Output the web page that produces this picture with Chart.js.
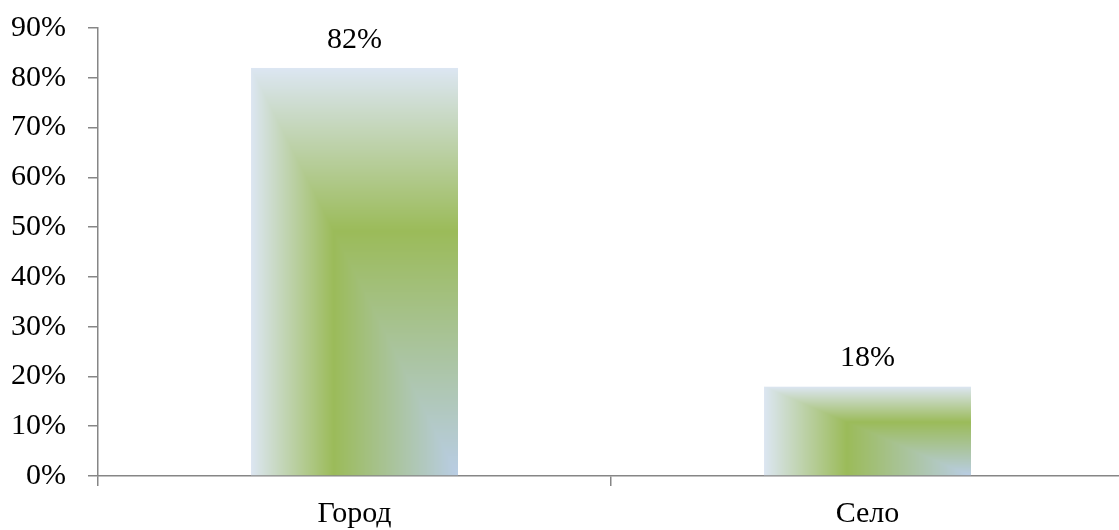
<!DOCTYPE html>
<html>
<head>
<meta charset="utf-8">
<script src="https://cdn.jsdelivr.net/npm/chart.js@4.4.1/dist/chart.umd.min.js"></script>
<style>
  html, body { margin: 0; padding: 0; background: #fff; overflow: hidden; }
  canvas { display: block; }
</style>
</head>
<body>
<canvas id="chart" width="1126" height="530"></canvas>
<script>
// Share of respondents by place of residence
const categories = ['Город', 'Село'];
const shares = [82, 18];
const yTickValues = [0, 10, 20, 30, 40, 50, 60, 70, 80, 90];

const FONT = '"Liberation Serif", "Times New Roman", serif';
const FONT_SIZE = 30;
const AXIS_COLOR = '#868686';
const BAR_PCT = 0.4035;

// Rectangular fill: light edges along top/left, green band, bluish lower-right corner
const fillStops = [0, 0.4, 1];
const fillColors = [[220, 230, 242], [155, 187, 89], [185, 205, 229]];

function colorAt(t) {
  for (let i = 1; i < fillStops.length; i++) {
    if (t <= fillStops[i]) {
      const k = (t - fillStops[i - 1]) / (fillStops[i] - fillStops[i - 1]);
      const a = fillColors[i - 1], b = fillColors[i];
      return [a[0] + (b[0] - a[0]) * k, a[1] + (b[1] - a[1]) * k, a[2] + (b[2] - a[2]) * k];
    }
  }
  return fillColors[fillColors.length - 1];
}

function barFill(context) {
  const chart = context.chart;
  const xs = chart.scales.x, ys = chart.scales.y;
  const fallback = 'rgb(155,187,89)';
  if (!xs || !ys || !(xs.width > 0) || !(ys.height > 0)) return fallback;
  const value = context.dataset.data[context.dataIndex];
  const cx = xs.getPixelForValue(context.dataIndex);
  const w = xs.width / categories.length * BAR_PCT;
  const top = ys.getPixelForValue(value);
  const base = ys.getPixelForValue(0);
  const h = base - top;
  if (!isFinite(cx) || !(w > 1) || !(h > 1)) return fallback;
  const left = cx - w / 2;
  const W = Math.ceil(w), H = Math.ceil(h);
  const off = document.createElement('canvas');
  off.width = W; off.height = H;
  const octx = off.getContext('2d');
  const img = octx.createImageData(W, H);
  for (let py = 0; py < H; py++) {
    const v = (py + 0.5) / h;
    for (let px = 0; px < W; px++) {
      const u = (px + 0.5) / w;
      const c = colorAt(Math.min(1, Math.min(u, v)));
      const idx = (py * W + px) * 4;
      img.data[idx] = c[0]; img.data[idx + 1] = c[1]; img.data[idx + 2] = c[2]; img.data[idx + 3] = 255;
    }
  }
  octx.putImageData(img, 0, 0);
  const pattern = chart.ctx.createPattern(off, 'no-repeat');
  pattern.setTransform(new DOMMatrix().translate(left, top));
  return pattern;
}

// Percentage above each bar
const valueLabels = {
  id: 'valueLabels',
  afterDatasetsDraw(chart) {
    const ctx = chart.ctx;
    const meta = chart.getDatasetMeta(0);
    ctx.save();
    ctx.font = FONT_SIZE + 'px ' + FONT;
    ctx.fillStyle = '#000';
    ctx.textAlign = 'center';
    ctx.textBaseline = 'alphabetic';
    meta.data.forEach((bar, i) => {
      ctx.fillText(shares[i] + '%', bar.x, bar.y - 20);
    });
    ctx.restore();
  }
};

new Chart(document.getElementById('chart'), {
  type: 'bar',
  data: {
    labels: categories,
    datasets: [{
      data: shares,
      backgroundColor: barFill,
      borderWidth: 0,
      barPercentage: BAR_PCT,
      categoryPercentage: 1
    }]
  },
  options: {
    responsive: false,
    animation: false,
    events: [],
    layout: { padding: { top: 28, right: 2, left: 0, bottom: 0 } },
    plugins: { legend: { display: false }, tooltip: { enabled: false } },
    scales: {
      x: {
        offset: true,
        border: { color: AXIS_COLOR, width: 1.5 },
        grid: { offset: true, drawOnChartArea: false, drawTicks: true, tickLength: 10, color: AXIS_COLOR, lineWidth: 1.5 },
        ticks: { color: '#000', font: { family: FONT, size: FONT_SIZE }, padding: 10, maxRotation: 0 },
        afterFit(scale) {
          scale.height = 54;
          scale.paddingLeft = 0; scale.paddingRight = 0;
        }
      },
      y: {
        min: 0,
        max: 90,
        border: { color: AXIS_COLOR, width: 1.5 },
        grid: { drawOnChartArea: false, drawTicks: true, tickLength: 10, color: AXIS_COLOR, lineWidth: 1.5 },
        afterBuildTicks(scale) { scale.ticks = yTickValues.map(v => ({ value: v })); },
        ticks: {
          color: '#000',
          font: { family: FONT, size: FONT_SIZE },
          padding: 22,
          callback: v => v + '%'
        },
        afterFit(scale) {
          scale.width = 98;
          scale.paddingTop = 0; scale.paddingBottom = 0;
        }
      }
    }
  },
  plugins: [valueLabels]
});
</script>
</body>
</html>
